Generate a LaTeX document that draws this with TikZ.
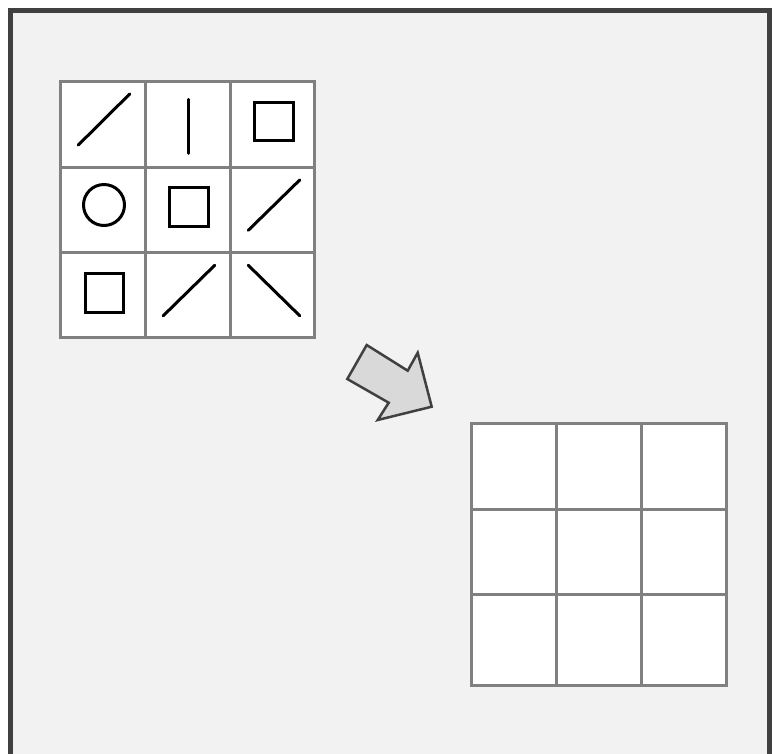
\documentclass[tikz,border=0pt]{standalone}
\definecolor{bgc}{HTML}{F2F2F2}
\definecolor{framec}{HTML}{404040}
\definecolor{gridc}{HTML}{808080}
\definecolor{arrowc}{HTML}{D9D9D9}
\tikzset{
  cellbox/.style={draw=gridc, fill=white, line width=3pt},
  glyph/.style={draw=black, line width=3pt, line cap=round},
  sqglyph/.style={draw=black, line width=3pt},
}
\begin{document}
\begin{tikzpicture}[x=1pt,y=-1pt]
\clip (0,0) rectangle (773,753);
\fill[white] (0,0) rectangle (773,753);
\draw[framec, fill=bgc, line width=5pt] (10.5,10.5) rectangle (769,775);
% left grid
\foreach \xa/\xb [count=\i] in {60.5/145.5,145.5/230,230/314.5}{
  \foreach \ya/\yb [count=\j] in {81.5/167,167/252,252/337.5}{
    \draw[cellbox] (\xa,\ya) rectangle (\xb,\yb);
  }
}
% right grid
\foreach \xa/\xb in {471/556,556/641,641/726}{
  \foreach \ya/\yb in {423/509,509/594,594/685}{
    \draw[cellbox] (\xa,\ya) rectangle (\xb,\yb);
  }
}
% glyphs
\draw[glyph] (78.3,145) -- (129.7,94);
\draw[glyph] (188.7,99.3) -- (188.7,153.3);
\draw[sqglyph] (254.3,102) rectangle (293,140.3);
\draw[sqglyph] (104,205) circle (20.5);
\draw[sqglyph] (169.3,187.7) rectangle (208.3,226.7);
\draw[glyph] (248.3,230.3) -- (299.7,180);
\draw[sqglyph] (85,273.3) rectangle (123.3,312);
\draw[glyph] (163.3,315.7) -- (214.7,265.3);
\draw[glyph] (248.3,265.3) -- (299.7,315.7);
% arrow
\draw[draw=framec, fill=arrowc, line width=2.5pt, line join=miter]
  (366.7,345) -- (407.7,370.7) -- (417.7,352.7) -- (431.7,406.7)
  -- (377.7,420) -- (388.7,402.7) -- (347.3,379) -- cycle;
\end{tikzpicture}
\end{document}
